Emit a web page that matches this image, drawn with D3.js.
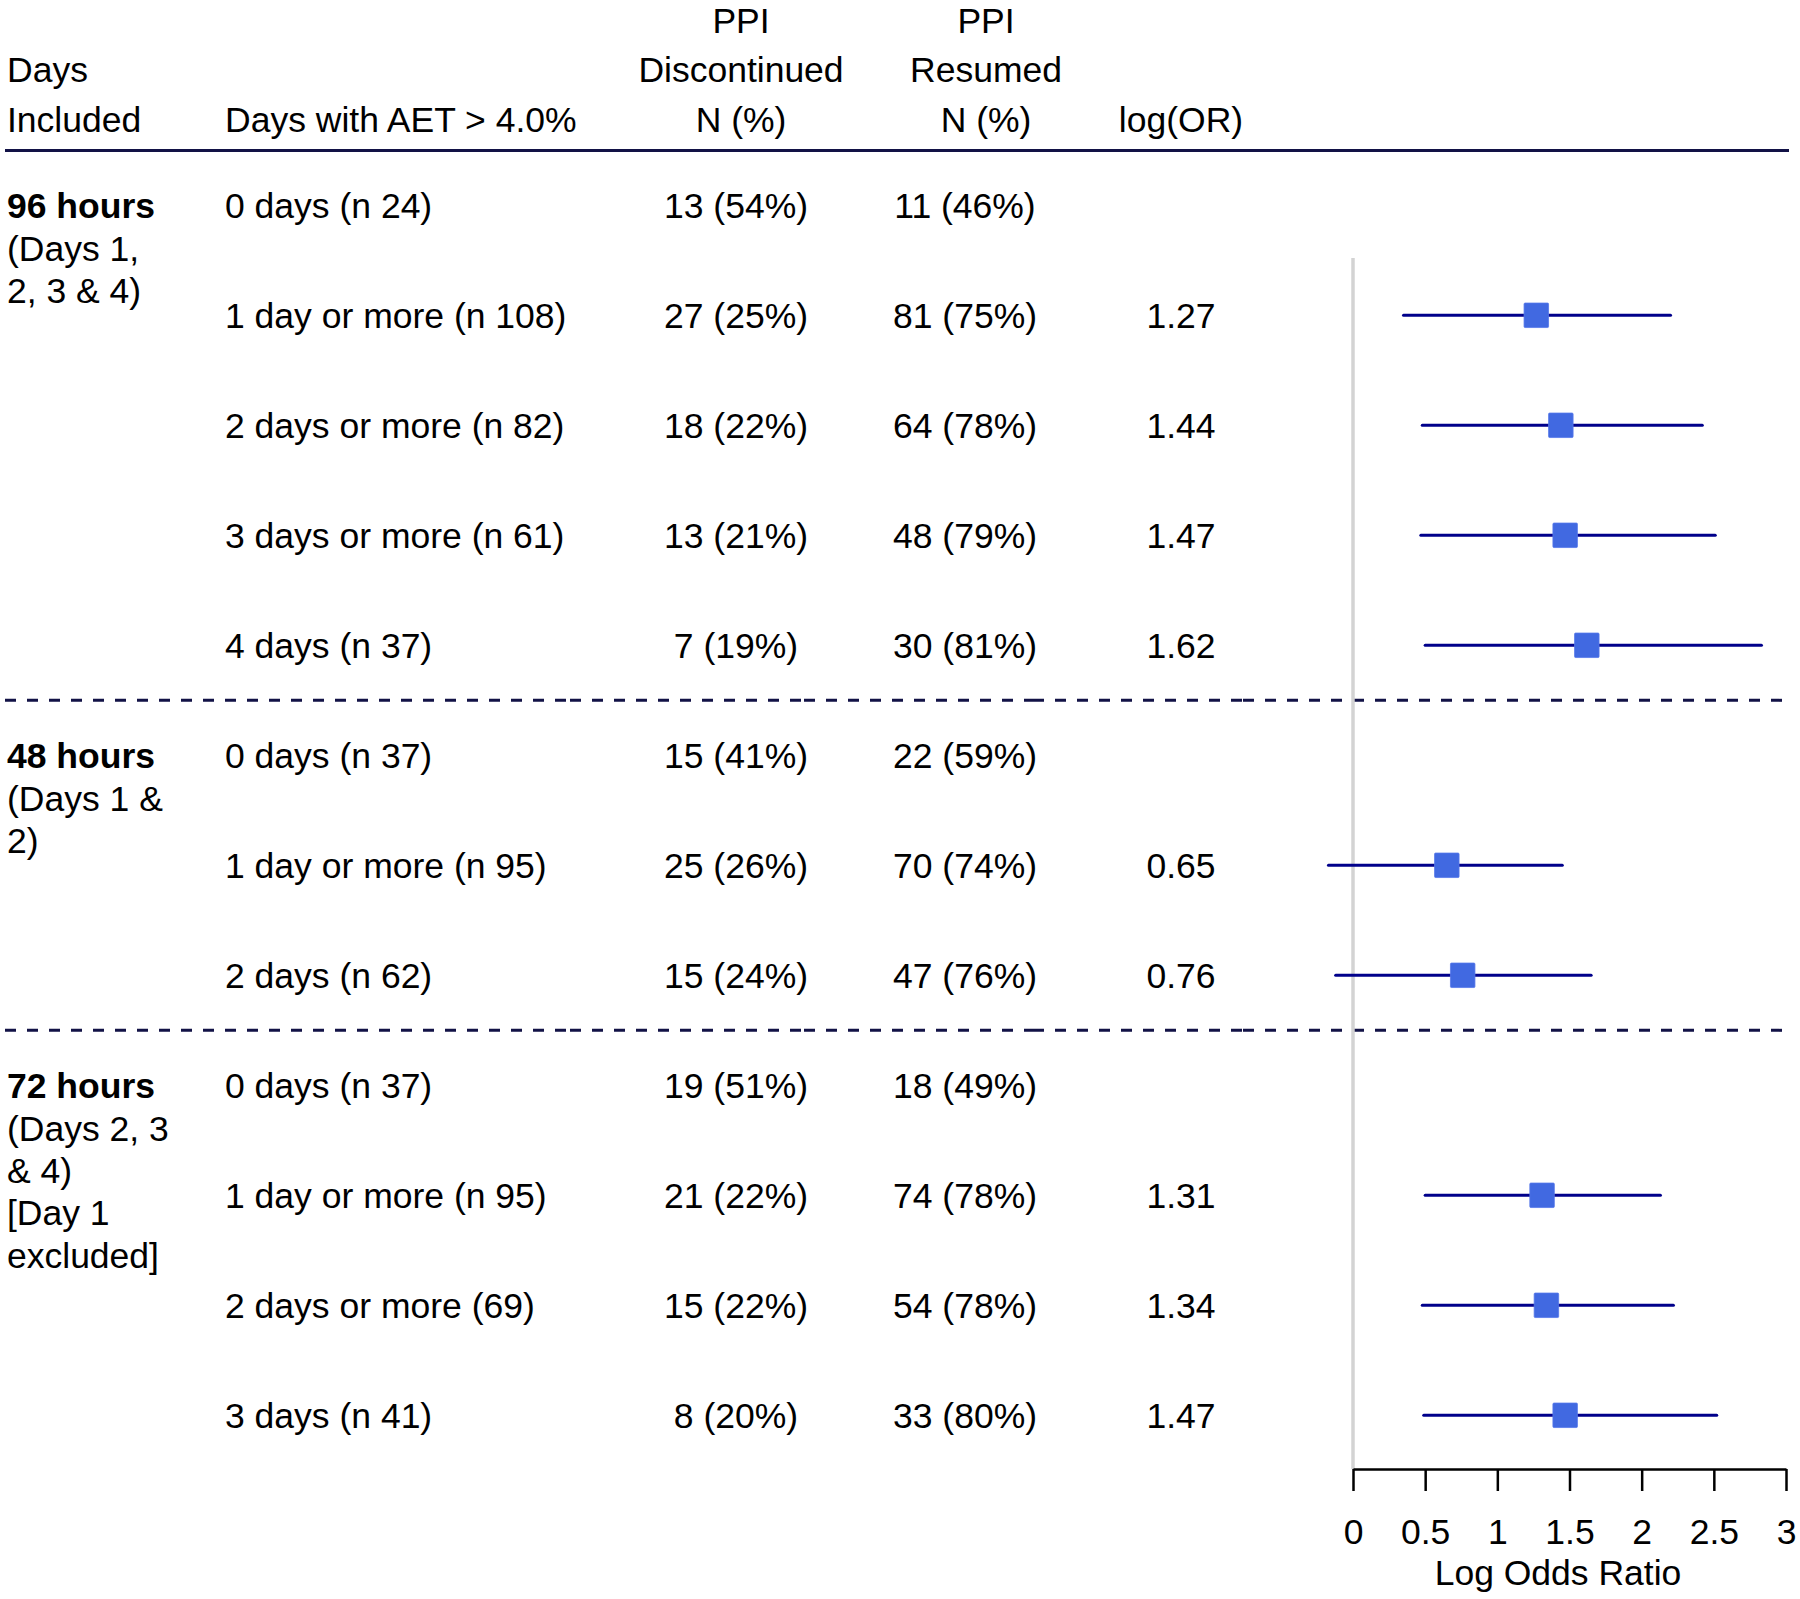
<!DOCTYPE html>
<html><head><meta charset="utf-8">
<script src="https://cdn.jsdelivr.net/npm/d3@7"></script>
<style>
body{margin:0;background:#fff}
svg{display:block}
text{font-family:"Liberation Sans",Arial,Helvetica,sans-serif;font-size:35.5px;fill:#000}
</style>
</head><body><svg id="c" width="1800" height="1599"></svg>
<script>
// ---- data ----
const groupLabels = ["96 hours", "48 hours", "72 hours"];
const groupSubLabels = [["(Days 1,", "2, 3 & 4)"], ["(Days 1 &", "2)"], ["(Days 2, 3", "& 4)", "[Day 1", "excluded]"]];
const groupFirstRow = [0, 5, 8];
const rowLabels = ["0 days (n 24)", "1 day or more (n 108)", "2 days or more (n 82)", "3 days or more (n 61)", "4 days (n 37)",
  "0 days (n 37)", "1 day or more (n 95)", "2 days (n 62)",
  "0 days (n 37)", "1 day or more (n 95)", "2 days or more (69)", "3 days (n 41)"];
const discontinued = ["13 (54%)", "27 (25%)", "18 (22%)", "13 (21%)", "7 (19%)", "15 (41%)", "25 (26%)", "15 (24%)", "19 (51%)", "21 (22%)", "15 (22%)", "8 (20%)"];
const resumed = ["11 (46%)", "81 (75%)", "64 (78%)", "48 (79%)", "30 (81%)", "22 (59%)", "70 (74%)", "47 (76%)", "18 (49%)", "74 (78%)", "54 (78%)", "33 (80%)"];
const logOR = [null, 1.27, 1.44, 1.47, 1.62, null, 0.65, 0.76, null, 1.31, 1.34, 1.47];
const lowerCI = [null, 0.35, 0.48, 0.47, 0.50, null, -0.17, -0.12, null, 0.50, 0.48, 0.49];
const upperCI = [null, 2.20, 2.42, 2.51, 2.83, null, 1.45, 1.65, null, 2.13, 2.22, 2.52];
const axisTicks = [0, 0.5, 1, 1.5, 2, 2.5, 3];
const axisTitle = "Log Odds Ratio";
const headerCol1 = ["", "Days", "Included"];
const headerCol2 = ["", "", "Days with AET > 4.0%"];
const headerCol3 = ["PPI", "Discontinued", "N (%)"];
const headerCol4 = ["PPI", "Resumed", "N (%)"];
const headerCol5 = ["", "", "log(OR)"];

// ---- layout ----
const svg = d3.select("#c");
const navy = "#121246";
const nRows = rowLabels.length;
const y = d3.scaleLinear().domain([0, nRows - 1]).range([205.3, 205.3 + 110 * (nRows - 1)]);
const x = d3.scaleLinear().domain([0, 3]).range([1353, 1786]);
const capHalf = 12.8;
const lineStep = 42.4;
const headerBase = [33, 82, 132];

const colPos = {c1: 7, c2: 225, c3h: 741, c3: 736, c4h: 986, c4: 965, c5: 1181};

// headers
function header(lines, xpos, anchor) {
  svg.append("g").selectAll("text").data(lines).join("text")
    .attr("x", xpos).attr("y", (d, i) => headerBase[i])
    .attr("text-anchor", anchor).text(d => d);
}
header(headerCol1, colPos.c1, "start");
header(headerCol2, colPos.c2, "start");
header(headerCol3, colPos.c3h, "middle");
header(headerCol4, colPos.c4h, "middle");
header(headerCol5, colPos.c5, "middle");

svg.append("line").attr("x1", 5).attr("x2", 1789).attr("y1", 150.5).attr("y2", 150.5)
  .attr("stroke", navy).attr("stroke-width", 3);

// group dashed separators (drawn per column segment)
const segBounds = [5, 570, 804, 1033, 1243, 1789];
const sepY = groupFirstRow.slice(1).map(r => (y(r - 1) + y(r)) / 2);
sepY.forEach(sy => {
  svg.append("g").selectAll("line").data(d3.pairs(segBounds)).join("line")
    .attr("x1", d => d[0]).attr("x2", d => d[1]).attr("y1", sy).attr("y2", sy)
    .attr("stroke", navy).attr("stroke-width", 3).attr("stroke-dasharray", "11,11");
});

// group labels
groupLabels.forEach((g, gi) => {
  const y0 = y(groupFirstRow[gi]) + capHalf;
  svg.append("text").attr("x", colPos.c1).attr("y", y0).attr("font-weight", "bold").text(g);
  svg.append("g").selectAll("text").data(groupSubLabels[gi]).join("text")
    .attr("x", colPos.c1).attr("y", (d, i) => y0 + lineStep * (i + 1)).text(d => d);
});

// table columns
const rows = d3.range(nRows);
svg.append("g").selectAll("text").data(rows).join("text")
  .attr("x", colPos.c2).attr("y", i => y(i) + capHalf).text(i => rowLabels[i]);
svg.append("g").selectAll("text").data(rows).join("text")
  .attr("x", colPos.c3).attr("y", i => y(i) + capHalf).attr("text-anchor", "middle").text(i => discontinued[i]);
svg.append("g").selectAll("text").data(rows).join("text")
  .attr("x", colPos.c4).attr("y", i => y(i) + capHalf).attr("text-anchor", "middle").text(i => resumed[i]);
const fmt = d3.format(".2f");
svg.append("g").selectAll("text").data(rows.filter(i => logOR[i] != null)).join("text")
  .attr("x", colPos.c5).attr("y", i => y(i) + capHalf).attr("text-anchor", "middle").text(i => fmt(logOR[i]));

// zero line
const axisY = 1469;
svg.append("line").attr("x1", x(0)).attr("x2", x(0)).attr("y1", 258).attr("y2", axisY)
  .attr("stroke", "#d3d3d3").attr("stroke-width", 3.5);

// CI lines and boxes
const est = rows.filter(i => logOR[i] != null);
svg.append("g").selectAll("line").data(est).join("line")
  .attr("x1", i => x(lowerCI[i])).attr("x2", i => x(upperCI[i]))
  .attr("y1", i => y(i)).attr("y2", i => y(i))
  .attr("stroke", "#00008B").attr("stroke-width", 3).attr("stroke-linecap", "round");
const bs = 24.5;
svg.append("g").selectAll("rect").data(est).join("rect")
  .attr("x", i => x(logOR[i]) - bs / 2).attr("y", i => y(i) - bs / 2)
  .attr("width", bs).attr("height", bs).attr("rx", 1)
  .attr("fill", "#4169E1").attr("stroke", "#5577ea").attr("stroke-width", 0.8);

// axis
const axis = d3.axisBottom(x).tickValues(axisTicks).tickFormat(d => String(d))
  .tickSize(22).tickSizeOuter(0).tickPadding(28);
const ag = svg.append("g").attr("transform", `translate(0,${axisY})`).call(axis);
ag.select(".domain").attr("stroke", "#000").attr("stroke-width", 2.5);
ag.selectAll(".tick line").attr("stroke", "#000").attr("stroke-width", 2.5);
ag.selectAll(".tick text").attr("fill", "#000").style("font-size", "35.5px")
  .style("font-family", '"Liberation Sans",Arial,Helvetica,sans-serif');
svg.append("text").attr("x", 1558).attr("y", 1585).attr("text-anchor", "middle").text(axisTitle);
</script>
</body></html>
